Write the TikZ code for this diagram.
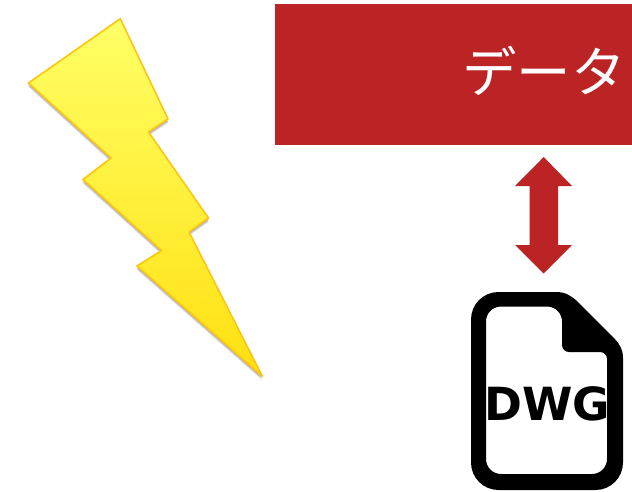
\documentclass[tikz,border=0pt]{standalone}
\usepackage{fontspec}
\setmainfont{DejaVu Sans}
\newfontfamily\cjk{Noto Sans CJK JP}
\usetikzlibrary{positioning}
\definecolor{brick}{HTML}{BB2324}
\definecolor{boltline}{HTML}{FFC40C}
\definecolor{bolttop}{HTML}{FFFF66}
\definecolor{boltbottom}{HTML}{FFE010}
\tikzset{
  databox/.style={fill=brick,minimum width=7.14cm,minimum height=2.82cm,inner sep=0pt},
  datatext/.style={text=white,inner sep=0pt,font=\cjk\fontsize{31}{31}\selectfont},
  bolt/.style={draw=boltline,line width=0.9pt,line join=round,top color=bolttop,bottom color=boltbottom},
  boltshade/.style={fill=black,opacity=0.09},
  swaparrow/.style={fill=brick},
  fileicon/.style={fill=black,even odd rule},
  filetext/.style={inner sep=0pt,font=\bfseries\fontsize{26}{26}\selectfont}
}
\begin{document}
\begin{tikzpicture}[x=0.02cm,y=-0.02cm]
  \useasboundingbox (0,0) rectangle (632,491);
  \foreach \offx/\offy in {-1/2,0/3,1/2,0/4}
    \fill[boltshade,shift={(\offx,\offy)}] (120.3,18.7) -- (168,119) -- (148.5,132) -- (208.5,218) -- (189,232) -- (262.5,376.5) -- (137,266) -- (161.5,250.5) -- (83,179.5) -- (111,158) -- (28.5,83) -- cycle;
  \draw[bolt] (120.3,18.7) -- (168,119) -- (148.5,132) -- (208.5,218) -- (189,232) -- (262.5,376.5) -- (137,266) -- (161.5,250.5) -- (83,179.5) -- (111,158) -- (28.5,83) -- cycle;
  \node[databox] (data) at (453.5,74.5) {};
  \node[datatext,anchor=east] (datalabel) at (626,71) {データ};
  \fill[swaparrow] (543.7,157) -- (572,186) -- (558,186) -- (558,245) -- (572,245) -- (543.7,273.5) -- (515,245) -- (529.5,245) -- (529.5,186) -- (515,186) -- cycle;
  \fill[fileicon] (530,292) -- (556,292) .. controls (566,292) and (571,296) .. (577,301) -- (612,336) .. controls (619,343) and (623,349) .. (623,358)
    [rounded corners=0.55cm] -- (623,490) -- (471,490) -- (471,292) -- cycle
    [rounded corners=0.3cm] (486,474) -- (486,306.5) -- (562,306.5) [rounded corners=0.14cm] -- (562,352) -- (607,352) [rounded corners=0.3cm] -- (607,474) -- cycle;
  \node[filetext] (dwg) at (547,404) {DWG};
\end{tikzpicture}
\end{document}
